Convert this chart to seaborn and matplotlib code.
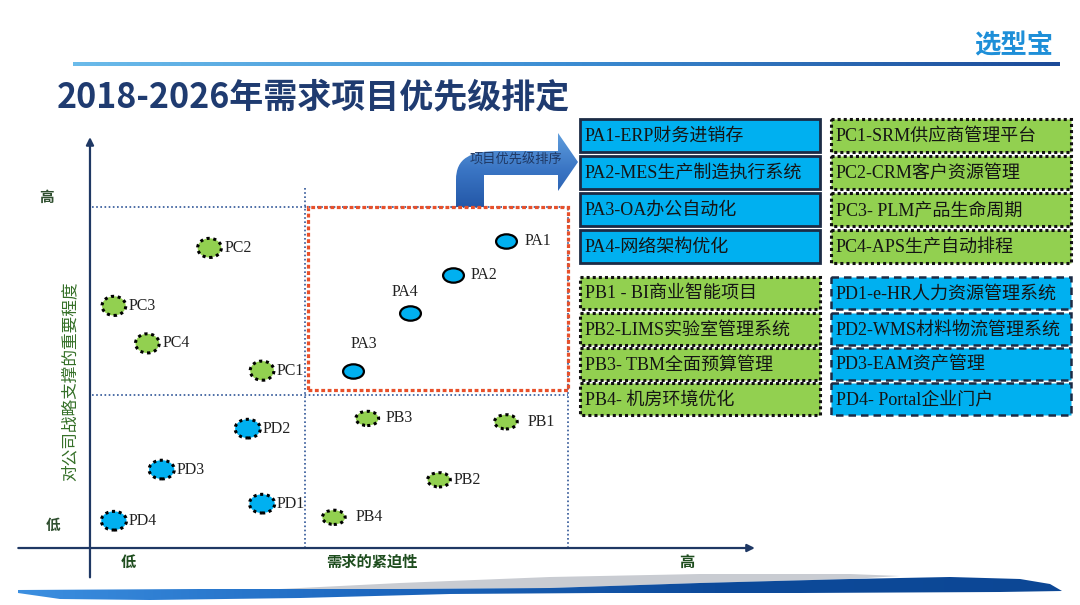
import numpy as np
import pandas as pd
import matplotlib
matplotlib.use('Agg')
import matplotlib.pyplot as plt
import seaborn as sns
from matplotlib.path import Path
from matplotlib.patches import Rectangle, PathPatch, Polygon
import matplotlib.transforms as mtransforms
from matplotlib.colors import LinearSegmentedColormap

# project positions: urgency (x) vs strategic importance (y), 0-100 scale
names = ['PA1', 'PA2', 'PA3', 'PA4', 'PB1', 'PB2', 'PB3', 'PB4',
         'PC1', 'PC2', 'PC3', 'PC4', 'PD1', 'PD2', 'PD3', 'PD4']
urgency = [87, 76, 55, 67, 87, 73, 58, 51, 36, 25, 5, 12, 36, 33, 15, 5]
importance = [90, 80, 52, 69, 37, 20, 38, 9, 52, 88, 71, 60, 13, 35, 23, 8]
threshold = 45

# project lists on the right
pa_items = ['PA1-ERP财务进销存', 'PA2-MES生产制造执行系统', 'PA3-OA办公自动化', 'PA4-网络架构优化']
pc_items = ['PC1-SRM供应商管理平台', 'PC2-CRM客户资源管理', 'PC3- PLM产品生命周期', 'PC4-APS生产自动排程']
pb_items = ['PB1 - BI商业智能项目', 'PB2-LIMS实验室管理系统', 'PB3- TBM全面预算管理', 'PB4- 机房环境优化']
pd_items = ['PD1-e-HR人力资源管理系统', 'PD2-WMS材料物流管理系统', 'PD3-EAM资产管理', 'PD4- Portal企业门户']

title = '2018-2026年需求项目优先级排定'
x_label = '需求的紧迫性'
y_label = '对公司战略支撑的重要程度'
arrow_text = '项目优先级排序'

df = pd.DataFrame({'name': names, 'urgency': urgency, 'importance': importance})
df['group'] = df['name'].str[:2]

sns.set_style('white')
plt.rcParams['font.family'] = ['Noto Sans CJK SC', 'DejaVu Sans']

BLUE = '#00B0F0'
GREEN = '#92D050'
NAVY = '#1F3864'

fig = plt.figure(figsize=(10.8, 6.05), dpi=100)

# overlay in pixel coordinates for the slide decoration
ov = fig.add_axes([0, 0, 1, 1], zorder=0)
ov.set_xlim(0, 1080)
ov.set_ylim(605, 0)
ov.set_axis_off()

# header line + logo
line_cmap = LinearSegmentedColormap.from_list('hl', ['#6BBBEA', '#3C8DD3', '#1C4A98'])
ov.imshow(np.linspace(0, 1, 256)[None, :], cmap=line_cmap, extent=[73, 1060, 66, 62], aspect='auto', zorder=1)
ov.text(1053, 46, '选型宝', ha='right', va='center', fontsize=19, fontweight='bold', color='#1E8FD8')
ov.text(57, 97, title, ha='left', va='center', fontsize=24.5, fontweight='bold', color='#1F3B70')

# bottom swoosh
blue_pts = [(18, 590), (200, 589), (400, 589), (550, 588), (700, 583), (850, 579), (950, 577),
            (1020, 579), (1050, 584), (1062, 591), (1000, 592), (800, 593), (600, 593), (450, 594),
            (300, 598), (150, 600), (60, 599), (18, 593)]
grey_pts = [(260, 590), (400, 583), (550, 577), (700, 574), (850, 574), (900, 576), (850, 579),
            (700, 583), (550, 588), (400, 589)]
grey = Polygon(grey_pts, closed=True, facecolor='#C9CCD2', edgecolor='none', zorder=1)
ov.add_patch(grey)
blue_poly = Polygon(blue_pts, closed=True, facecolor='none', edgecolor='none', zorder=2)
ov.add_patch(blue_poly)
sw_cmap = LinearSegmentedColormap.from_list('sw', ['#3C8FE0', '#1D68C0', '#0D4A9A', '#0C4795'])
im = ov.imshow(np.linspace(0, 1, 256)[None, :], cmap=sw_cmap, extent=[18, 1062, 601, 574],
               aspect='auto', zorder=2)
im.set_clip_path(blue_poly)

# bent arrow "项目优先级排序"
verts = [(456, 207), (456, 180), (456, 158), (470, 151), (500, 151), (558, 151), (558, 133),
         (578, 162), (558, 191), (558, 175), (484, 175), (484, 207), (456, 207)]
codes = [Path.MOVETO, Path.LINETO, Path.CURVE4, Path.CURVE4, Path.CURVE4, Path.LINETO, Path.LINETO,
         Path.LINETO, Path.LINETO, Path.LINETO, Path.LINETO, Path.LINETO, Path.CLOSEPOLY]
arrow_patch = PathPatch(Path(verts, codes), facecolor='none', edgecolor='none', zorder=2)
ov.add_patch(arrow_patch)
ar_cmap = LinearSegmentedColormap.from_list('ar', ['#5F9DDC', '#3A75C4', '#2458A8'])
im2 = ov.imshow(np.linspace(0, 1, 256)[:, None], cmap=ar_cmap, extent=[456, 578, 207, 133],
                aspect='auto', zorder=2)
im2.set_clip_path(arrow_patch)
ov.text(516, 160, arrow_text, ha='center', va='center', fontsize=9.5, color='#1F3864', zorder=3)

# project boxes
box_font = ['Liberation Serif', 'Noto Sans CJK SC']


def draw_boxes(items, x0, tops, h, face, edge, ls, lw):
    for t, label in zip(tops, items):
        ov.add_patch(Rectangle((x0, t), 240, h, facecolor=face, edgecolor=edge,
                               linestyle=ls, linewidth=lw, zorder=3))
        ov.text(x0 + 5, t + h / 2 + 1, label, ha='left', va='center', fontsize=13,
                family=box_font, color='#151515', zorder=4)


top_rows = [119, 156, 193, 230]
bottom_rows = [277, 313, 348, 383]
dots = (0, (1, 1))
draw_boxes(pa_items, 580, top_rows, 33, BLUE, '#1C2B45', '-', 2)
draw_boxes(pc_items, 831, top_rows, 33, GREEN, '#111111', dots, 2.2)
draw_boxes(pb_items, 580, bottom_rows, 32, GREEN, '#111111', dots, 2.2)
draw_boxes(pd_items, 831, bottom_rows, 32, BLUE, '#1C2B45', (0, (3, 2)), 1.8)

# axis texts
ov.text(47, 197, '高', ha='center', va='center', fontsize=10.5, fontweight='bold', color='#2F4F2F')
ov.text(53, 525, '低', ha='center', va='center', fontsize=10.5, fontweight='bold', color='#2F4F2F')
ov.text(70, 381, y_label, ha='center', va='center', rotation=90, fontsize=12, color='#357028')
ov.text(128, 562, '低', ha='center', va='center', fontsize=11, fontweight='bold', color='#1E4D1E')
ov.text(372, 562, x_label, ha='center', va='center', fontsize=11, fontweight='bold', color='#1E4D1E')
ov.text(687, 562, '高', ha='center', va='center', fontsize=11, fontweight='bold', color='#1E4D1E')

# main matrix axes (0-100 scale, 4.78 px / 3.41 px per unit)
ax = fig.add_axes([18 / 1080, 25 / 605, 742 / 1080, 445 / 605], zorder=1)
ax.set_xlim(-15.06, 140.17)
ax.set_ylim(-9.38, 121.11)
ax.set_axis_off()

axis_kw = dict(arrowstyle='-|>', color=NAVY, lw=1.6, mutation_scale=11, shrinkA=0, shrinkB=0)
ax.annotate('', xy=(139.1, 0), xytext=(-15, 0), arrowprops=axis_kw)
ax.annotate('', xy=(0, 120.5), xytext=(0, -8.6), arrowprops=axis_kw)

grid_kw = dict(color='#2F5597', lw=1.2, linestyle=(0, (1, 1.5)), zorder=1)
ax.plot([0.5, 100], [100, 100], **grid_kw)
ax.plot([0.5, 100], [threshold, threshold], **grid_kw)
ax.plot([threshold, threshold], [0, 105.6], **grid_kw)
ax.plot([100, 100], [0, 100], **grid_kw)
ax.add_patch(Rectangle((45.6, 46.3), 54.4, 53.7, fill=False, edgecolor='#E8502A', lw=2.3,
                       linestyle=(0, (1.2, 0.8)), zorder=2))


def ellipse(ratio):
    return Path.unit_circle().transformed(mtransforms.Affine2D().scale(1.0, 1.0 / ratio))


group_style = {
    'PA': dict(color=BLUE, ratio=1.45, s=225, lw=1.6, ls='-'),
    'PB': dict(color=GREEN, ratio=1.6, s=269, lw=2.2, ls=(0, (1, 1.2))),
    'PC': dict(color=GREEN, ratio=1.24, s=292, lw=2.2, ls=(0, (1, 1.2))),
    'PD': dict(color=BLUE, ratio=1.35, s=331, lw=2.2, ls=(0, (1, 1.2))),
}
for g, st in group_style.items():
    sns.scatterplot(data=df[df['group'] == g], x='urgency', y='importance', ax=ax,
                    marker=ellipse(st['ratio']), s=st['s'], color=st['color'],
                    edgecolor='black', linewidth=st['lw'], linestyle=st['ls'],
                    legend=False, zorder=3)

# label offsets in pixels (dx, dy up, alignment)
label_offset = {'PA1': (19, 0, 'left'), 'PA2': (17, 0, 'left'), 'PA3': (11, 27, 'center'),
                'PA4': (-5, 21, 'center'), 'PB1': (22, 0, 'left'), 'PB3': (18, 0, 'left'),
                'PB4': (22, 0, 'left')}
for _, r in df.iterrows():
    dx, dy, ha = label_offset.get(r['name'], (15, 0, 'left'))
    ax.annotate(r['name'], (r['urgency'], r['importance']), xytext=(dx * 0.72, dy * 0.72),
                textcoords='offset points', ha=ha, va='center', fontsize=11.5,
                family='Liberation Serif', color='#222222', zorder=4)

fig.savefig('out.png', dpi=100)
